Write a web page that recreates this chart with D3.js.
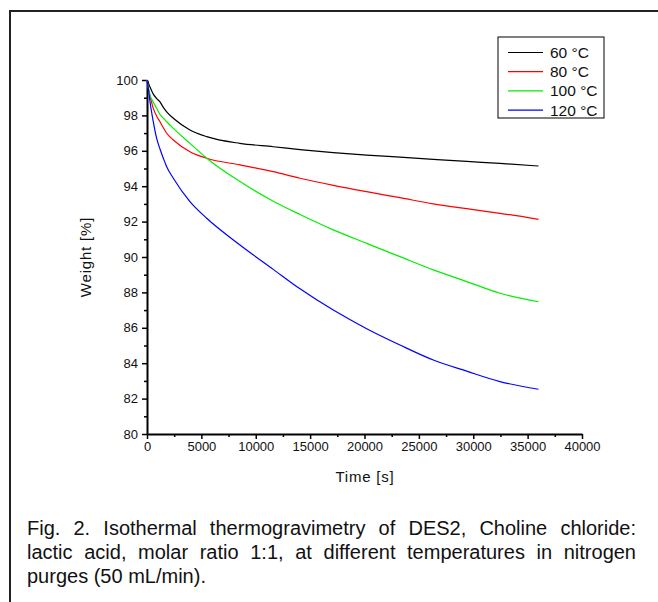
<!DOCTYPE html>
<html>
<head>
<title>Isothermal TGA</title>
<style>
  body { margin: 0; background: #fff; }
  .frame { position: absolute; left: 9px; top: 10px; width: 700px; height: 700px; border-left: 2px solid #222; border-top: 2px solid #222; }
  .caption { position: absolute; left: 27px; top: 516px; width: 609px; font: 20px "Liberation Sans", Arial, sans-serif; line-height: 24px; color: #111; }
  .caption .j { text-align: justify; text-align-last: justify; }
  .axis text { font: 13px "Liberation Sans", Arial, sans-serif; fill: #111; }
  .axis path, .axis line { stroke: #000; }
  .lbl { font: 15px "Liberation Sans", Arial, sans-serif; fill: #111; letter-spacing: 0.8px; }
  .leg { font: 15.5px "Liberation Sans", Arial, sans-serif; fill: #111; }
</style>
<script src="https://d3js.org/d3.v7.min.js"></script>
</head>
<body>
<div class="frame"></div>
<svg width="658" height="602" style="position:absolute;left:0;top:0"></svg>
<div class="caption">
  <div class="j">Fig. 2. Isothermal thermogravimetry of DES2, Choline chloride:</div>
  <div class="j">lactic acid, molar ratio 1:1, at different temperatures in nitrogen</div>
  <div>purges (50 mL/min).</div>
</div>

<script>
// time points in seconds
var times = [0, 120, 276, 580, 890, 1195, 1500, 1810, 2420, 3950, 5490, 8550, 11610, 14070, 17130, 20200, 23260, 26330, 29400, 32460, 36000];

// weight [%]
var w60  = [100, 99.85, 99.6, 99.2, 98.95, 98.77, 98.45, 98.2, 97.84, 97.18, 96.80, 96.42, 96.23, 96.07, 95.90, 95.76, 95.64, 95.52, 95.40, 95.29, 95.14];
var w80  = [100, 99.5, 99.1, 98.4, 97.95, 97.64, 97.3, 96.99, 96.61, 95.95, 95.58, 95.20, 94.82, 94.45, 94.05, 93.69, 93.35, 93.00, 92.73, 92.47, 92.13];
var w100 = [100, 99.6, 99.15, 98.75, 98.4, 98.05, 97.85, 97.64, 97.27, 96.42, 95.58, 94.26, 93.15, 92.4, 91.53, 90.77, 90.02, 89.27, 88.61, 87.95, 87.47];
var w120 = [100, 99.53, 98.77, 97.64, 96.7, 96.1, 95.58, 95.1, 94.45, 93.13, 92.19, 90.68, 89.3, 88.2, 87.0, 85.95, 85.03, 84.18, 83.55, 82.96, 82.53];

var seriesNames = ["60 °C", "80 °C", "100 °C", "120 °C"];
var seriesColors = ["#000000", "#ff0000", "#00ee00", "#0000ff"];
var xTicks = [0, 5000, 10000, 15000, 20000, 25000, 30000, 35000, 40000];
var yTicks = [80, 82, 84, 86, 88, 90, 92, 94, 96, 98, 100];

var svg = d3.select("svg");
var x = d3.scaleLinear().domain([0, 40000]).range([147, 582]);
var y = d3.scaleLinear().domain([80, 100]).range([434, 80]);

// minor ticks
svg.append("g").attr("class", "axis").attr("transform", "translate(0,434)")
  .call(d3.axisBottom(x).tickValues(d3.range(2500, 40000, 5000)).tickSize(3).tickFormat(""))
  .call(function(g) { g.select(".domain").remove(); g.selectAll("line").attr("stroke-width", 1.5); });
svg.append("g").attr("class", "axis").attr("transform", "translate(147,0)")
  .call(d3.axisLeft(y).tickValues(d3.range(81, 100, 2)).tickSize(3).tickFormat(""))
  .call(function(g) { g.select(".domain").remove(); g.selectAll("line").attr("stroke-width", 1.5); });

var xAxis = svg.append("g").attr("class", "axis").attr("transform", "translate(0,434)")
  .call(d3.axisBottom(x).tickValues(xTicks).tickFormat(d3.format("d")).tickSize(5).tickSizeOuter(0).tickPadding(3));
xAxis.select(".domain").attr("stroke-width", 2);
xAxis.selectAll("line").attr("stroke-width", 1.5);

var yAxis = svg.append("g").attr("class", "axis").attr("transform", "translate(147,0)")
  .call(d3.axisLeft(y).tickValues(yTicks).tickSize(5).tickSizeOuter(0).tickPadding(4));
yAxis.select(".domain").attr("stroke-width", 2);
yAxis.selectAll("line").attr("stroke-width", 1.5);

svg.append("text").attr("class", "lbl").attr("x", 365).attr("y", 482)
  .attr("text-anchor", "middle").text("Time [s]");
svg.append("text").attr("class", "lbl")
  .attr("transform", "translate(91,257) rotate(-90)")
  .attr("text-anchor", "middle").text("Weight [%]");

var line = d3.line()
  .x(function(d) { return x(d[0]); })
  .y(function(d) { return y(d[1]); })
  .curve(d3.curveMonotoneX);

var allSeries = [w60, w80, w100, w120];
allSeries.forEach(function(vals, i) {
  svg.append("path")
    .datum(times.map(function(t, k) { return [t, vals[k]]; }))
    .attr("fill", "none")
    .attr("stroke", seriesColors[i])
    .attr("stroke-width", 1.2)
    .attr("d", line);
});

// legend
var leg = svg.append("g").attr("transform", "translate(498,37)");
leg.append("rect").attr("width", 106).attr("height", 81)
  .attr("fill", "#fff").attr("stroke", "#000").attr("stroke-width", 1);
seriesNames.forEach(function(n, i) {
  var yy = 15.5 + i * 19.2;
  leg.append("line").attr("x1", 10).attr("x2", 45).attr("y1", yy).attr("y2", yy)
    .attr("stroke", seriesColors[i]).attr("stroke-width", 1.2);
  leg.append("text").attr("class", "leg").attr("x", 52).attr("y", yy + 5.5).text(n);
});
</script>
</body>
</html>
